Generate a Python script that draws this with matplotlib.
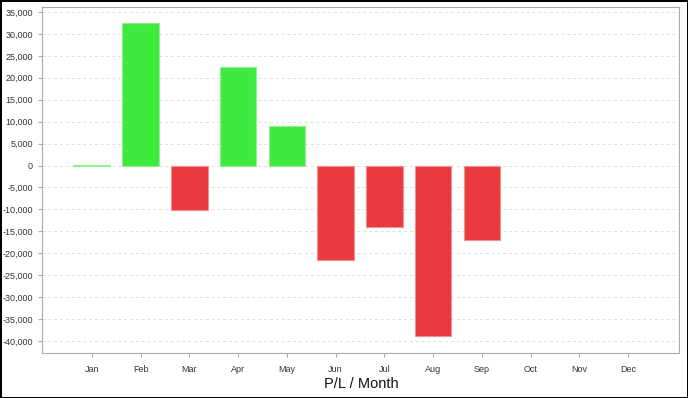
import matplotlib.pyplot as plt
import matplotlib.ticker as mticker

months = ["Jan", "Feb", "Mar", "Apr", "May", "Jun", "Jul", "Aug", "Sep", "Oct", "Nov", "Dec"]
pl = [200, 32600, -10200, 22500, 9100, -21600, -14100, -38900, -16900, 0, 0, 0]

green = "#3fea3f"
red = "#ea3a3f"

plt.rcParams["font.family"] = ["Liberation Sans", "DejaVu Sans"]

fig = plt.figure(figsize=(6.88, 3.98), dpi=100)
fig.patch.set_edgecolor("black")
fig.patch.set_linewidth(2)
ax = fig.add_axes([42 / 688, 45 / 398, 637 / 688, 346 / 398])

x = list(range(len(months)))
colors = [green if v >= 0 else red for v in pl]
edges = ["#90f090" if v >= 0 else "#f09090" for v in pl]
for i, v in enumerate(pl):
    if v != 0:
        ax.bar(i, v, width=0.75, color=colors[i], edgecolor=edges[i], linewidth=0.8, zorder=3)

ax.set_xlim(-1.02, 12.04)
ax.set_ylim(-42730, 36140)
ax.set_xticks(x)
ax.set_xticklabels(months)
ax.yaxis.set_major_locator(mticker.MultipleLocator(5000))
ax.yaxis.set_major_formatter(mticker.FuncFormatter(lambda v, p: f"{int(v):,}"))
ax.grid(axis="y", color="#e0e0e0", linestyle=(0, (3, 3)), linewidth=0.7, zorder=0)
for s in ax.spines.values():
    s.set_color("#aaaaaa")
ax.tick_params(axis="both", labelsize=6.5, colors="#aaaaaa", labelcolor="#333333", length=3, width=0.8)
ax.tick_params(axis="x", pad=6)

# x axis caption sits well below the tick labels
fig.text(0.525, 0.036, "P/L / Month", fontsize=10.5, color="#111111", ha="center", va="center")

fig.savefig("out.png", dpi=100)
